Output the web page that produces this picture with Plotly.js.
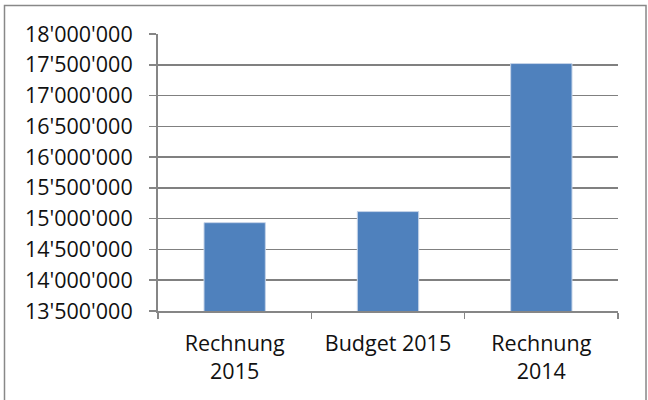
<!DOCTYPE html>
<html>
<head>
<meta charset="utf-8">
<script src="https://cdn.plot.ly/plotly-3.0.1.min.js"></script>
<style>
  html, body { margin: 0; padding: 0; background: #fff; }
  #chart { width: 648px; height: 400px; }
</style>
</head>
<body>
<div id="chart"></div>
<script>
const categories = ["Rechnung<br>2015", "Budget 2015", "Rechnung<br>2014"];
const values = [14935000, 15115000, 17520000];
const yRange = [13500000, 18000000];
const yDtick = 500000;

const trace = {
  type: "bar",
  x: categories,
  y: values,
  marker: { color: "#4F81BD", line: { color: "#c6d4e8", width: 1 } },
  hoverinfo: "x+y"
};

const font = { family: "Open Sans, Liberation Sans, sans-serif", size: 21.5, color: "#111" };

const layout = {
  width: 648,
  height: 400,
  margin: { l: 158, r: 30, t: 34, b: 89 },
  paper_bgcolor: "#fff",
  plot_bgcolor: "#fff",
  separators: ".'",
  showlegend: false,
  bargap: 0.6,
  font: font,
  xaxis: {
    type: "category",
    tickson: "boundaries",
    ticks: "outside",
    ticklen: 6,
    tickwidth: 1.5,
    tickcolor: "#868686",
    showline: true,
    linecolor: "#868686",
    linewidth: 2,
    showgrid: false,
    tickfont: font,
    ticklabelstandoff: 12
  },
  yaxis: {
    range: yRange,
    dtick: yDtick,
    tick0: yRange[0],
    tickformat: ",d",
    ticks: "outside",
    ticklen: 7,
    tickwidth: 1.5,
    tickcolor: "#868686",
    showline: true,
    linecolor: "#868686",
    linewidth: 2,
    showgrid: true,
    gridcolor: "#808080",
    gridwidth: 1.6,
    zeroline: false,
    tickfont: font,
    ticklabelstandoff: 12
  },
  shapes: [{
    type: "rect",
    xref: "paper", yref: "paper",
    x0: -0.3337, x1: 1.0609,
    y0: -0.33, y1: 1.1029,
    line: { color: "#888888", width: 1.5 },
    fillcolor: "rgba(0,0,0,0)",
    layer: "below"
  }]
};

Plotly.newPlot("chart", [trace], layout, { staticPlot: true, displayModeBar: false });
</script>
</body>
</html>
